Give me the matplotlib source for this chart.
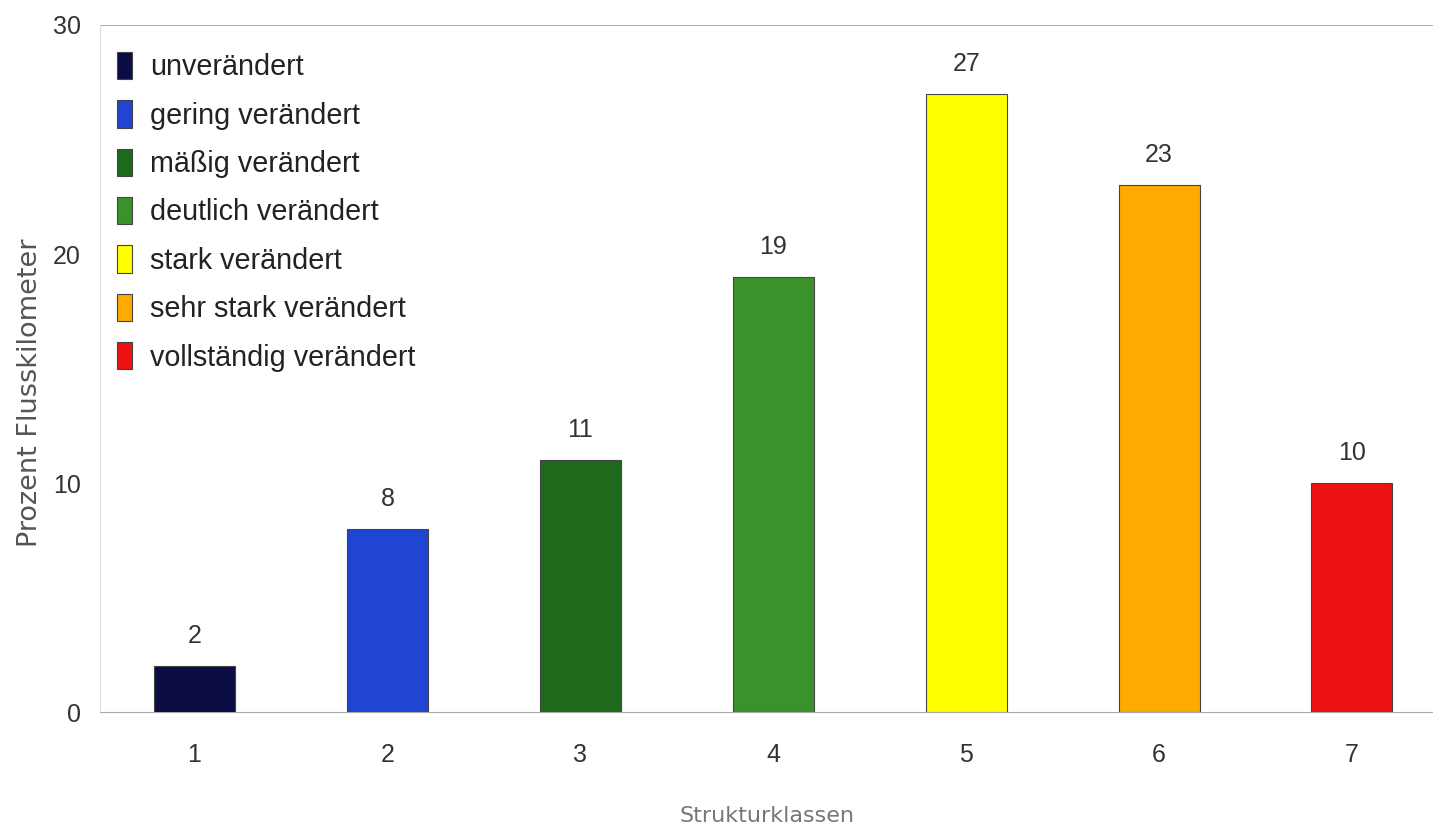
import matplotlib
matplotlib.use("Agg")
import matplotlib.pyplot as plt

classes = [1, 2, 3, 4, 5, 6, 7]
values = [2, 8, 11, 19, 27, 23, 10]
labels = ["unverändert", "gering verändert", "mäßig verändert", "deutlich verändert",
          "stark verändert", "sehr stark verändert", "vollständig verändert"]
colors = ["#0c0c45", "#1f45d2", "#1d6a1d", "#3b922a", "#ffff00", "#ffaa00", "#ee1111"]
yticks = [0, 10, 20, 30]

plt.rcParams['font.family'] = ['Liberation Sans', 'DejaVu Sans']

fig = plt.figure(figsize=(14.33, 8.32), dpi=100)
ax = fig.add_axes([0.0698, 0.144, 0.9302, 0.826])

bars = ax.bar(classes, values, width=0.42, color=colors, edgecolor="#444444", linewidth=0.8,
              zorder=3)
for b, v, lab in zip(bars, values, labels):
    b.set_label(lab)
    ax.annotate(str(v), (b.get_x() + b.get_width() / 2, v), xytext=(0, 13),
                textcoords="offset points", ha="center", va="bottom",
                fontsize=18, color="#333333")

ax.set_xlim(0.51, 7.42)
ax.set_ylim(0, 30)
ax.set_yticks(yticks)
ax.set_xticks(classes)
ax.tick_params(axis="both", length=0, labelsize=18, labelcolor="#333333")
ax.tick_params(axis="y", pad=14)
ax.tick_params(axis="x", pad=22)
ax.axhline(30, color="#999999", linewidth=1.2, zorder=1)
for s in ["top", "right"]:
    ax.spines[s].set_visible(False)
ax.spines["left"].set_color("#e0e0e0")
ax.spines["bottom"].set_color("#aaaaaa")

ax.set_ylabel("Prozent Flusskilometer", fontsize=19.5, color="#555555",
              family=['DejaVu Sans'])
ax.yaxis.set_label_coords(-0.043, 0.465)
ax.set_xlabel("Strukturklassen", fontsize=16, color="#777777", labelpad=28,
              family=['DejaVu Sans'])

leg = ax.legend(loc="upper left", bbox_to_anchor=(-0.002, 0.99), frameon=False,
                fontsize=20.7, handlelength=0.52, handleheight=1.08, handletextpad=0.6,
                labelspacing=0.66, labelcolor="#222222", borderaxespad=0.3)

fig.savefig("out.png", dpi=100)
